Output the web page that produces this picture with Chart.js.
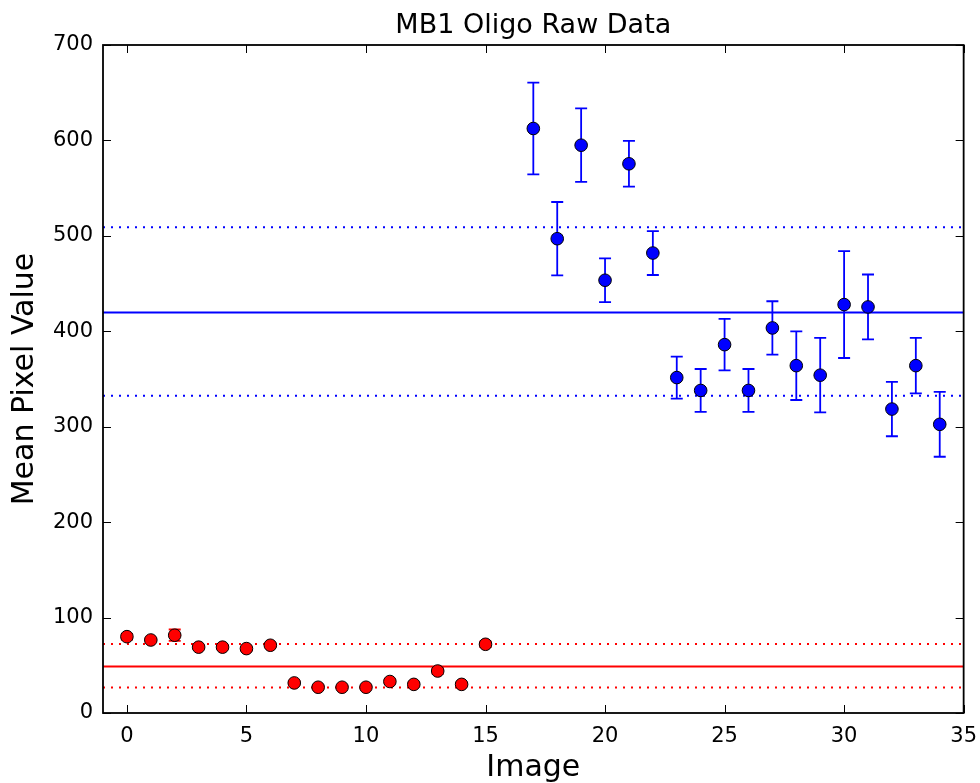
<!DOCTYPE html>
<html>
<head>
<meta charset="utf-8">
<script src="https://cdn.jsdelivr.net/npm/chart.js@4/dist/chart.umd.min.js"></script>
<style>
  html, body { margin: 0; padding: 0; background: #fff; }
  #wrap { width: 980px; height: 783px; }
</style>
</head>
<body>
<div id="wrap"><canvas id="chart" width="980" height="783"></canvas></div>
<script>
// values
const redX = [0, 1, 2, 3, 4, 5, 6, 7, 8, 9, 10, 11, 12, 13, 14, 15];
const redY = [80, 76.5, 81.5, 69, 69, 67.5, 71, 31.5, 27, 27, 27, 33, 30, 44, 30, 72];
const redErr = [3, 2, 6, 2, 2, 2, 2, 2, 2, 1, 1, 2, 2, 3, 2, 3];

const blueX = [17, 18, 19, 20, 21, 22, 23, 24, 25, 26, 27, 28, 29, 30, 31, 32, 33, 34];
const blueY = [612.5, 497, 595, 453.5, 575.5, 482, 351.5, 338, 386, 338, 403.5, 364, 354, 428, 425.5, 318.5, 364, 302.5];
const blueErr = [48, 38.5, 38.5, 23, 24, 23, 22, 22.5, 27, 22.5, 28, 36, 39, 56, 34, 28.5, 29, 34];

const redMean = 48.7, redLow = 26.6, redHigh = 72.2;
const blueMean = 419.7, blueLow = 332.5, blueHigh = 509.1;

const xTicks = [0, 5, 10, 15, 20, 25, 30, 35];
const yTicks = [0, 100, 200, 300, 400, 500, 600, 700];
const xRange = [-1, 35];

const FONT = 'DejaVu Sans';

function pts(xs, ys) {
    return xs.map((x, i) => ({ x: x, y: ys[i] }));
}
function hline(v) {
    return [{ x: xRange[0], y: v }, { x: xRange[1], y: v }];
}
function lineSet(v, color, dashed) {
    return {
        type: 'line', data: hline(v), borderColor: color, borderWidth: 2,
        borderDash: dashed ? [2, 6] : [], pointRadius: 0, fill: false, order: 3
    };
}

// error bars under the dots
const errorBars = {
    id: 'errorBars',
    beforeDatasetsDraw(chart) {
        const ctx = chart.ctx;
        const xs = chart.scales.x, ys = chart.scales.y;
        chart.data.datasets.forEach(ds => {
            if (!ds.err) return;
            ctx.save();
            ctx.strokeStyle = ds.barColor;
            ctx.lineWidth = 1.8;
            ds.data.forEach((p, i) => {
                const px = xs.getPixelForValue(p.x);
                const top = ys.getPixelForValue(p.y + ds.err[i]);
                const bot = ys.getPixelForValue(p.y - ds.err[i]);
                ctx.beginPath();
                ctx.moveTo(px, top); ctx.lineTo(px, bot);
                ctx.moveTo(px - 6, top); ctx.lineTo(px + 6, top);
                ctx.moveTo(px - 6, bot); ctx.lineTo(px + 6, bot);
                ctx.stroke();
            });
            ctx.restore();
        });
    }
};

// box, inward ticks and title, matplotlib style
const frame = {
    id: 'frame',
    afterDraw(chart) {
        const ctx = chart.ctx;
        const a = chart.chartArea;
        const xs = chart.scales.x, ys = chart.scales.y;
        ctx.save();
        ctx.strokeStyle = '#000';
        ctx.lineWidth = 1;
        ctx.beginPath();
        xTicks.forEach(v => {
            const px = Math.round(xs.getPixelForValue(v)) + 0.5;
            ctx.moveTo(px, a.bottom); ctx.lineTo(px, a.bottom - 8);
            ctx.moveTo(px, a.top); ctx.lineTo(px, a.top + 8);
        });
        yTicks.forEach(v => {
            const py = Math.round(ys.getPixelForValue(v)) + 0.5;
            ctx.moveTo(a.left, py); ctx.lineTo(a.left + 8, py);
            ctx.moveTo(a.right, py); ctx.lineTo(a.right - 8, py);
        });
        ctx.stroke();
        ctx.lineWidth = 1.8;
        ctx.strokeRect(a.left, a.top, a.right - a.left, a.bottom - a.top);
        ctx.fillStyle = '#000';
        ctx.font = '27px "' + FONT + '"';
        ctx.textAlign = 'center';
        ctx.textBaseline = 'middle';
        ctx.fillText('MB1 Oligo Raw Data', (a.left + a.right) / 2, 26);
        ctx.restore();
    }
};

new Chart(document.getElementById('chart'), {
    type: 'scatter',
    data: {
        datasets: [
            lineSet(blueMean, '#0000ff', false),
            lineSet(blueLow, '#0000ff', true),
            lineSet(blueHigh, '#0000ff', true),
            lineSet(redMean, '#ff0000', false),
            lineSet(redLow, '#ff0000', true),
            lineSet(redHigh, '#ff0000', true),
            {
                data: pts(blueX, blueY), err: blueErr, barColor: '#0000ff',
                backgroundColor: '#0000ff', borderColor: '#000', borderWidth: 1,
                pointRadius: 6.3, order: 1
            },
            {
                data: pts(redX, redY), err: redErr, barColor: '#ff0000',
                backgroundColor: '#ff0000', borderColor: '#000', borderWidth: 1,
                pointRadius: 6.3, order: 1
            }
        ]
    },
    options: {
        responsive: false,
        animation: false,
        layout: { padding: { top: 45, right: 14, left: 0, bottom: 0 } },
        plugins: { legend: { display: false }, tooltip: { enabled: false } },
        scales: {
            x: {
                type: 'linear', min: xRange[0], max: xRange[1],
                afterBuildTicks: s => { s.ticks = xTicks.map(v => ({ value: v })); },
                afterFit: s => { s.height = 70; },
                grid: { display: false }, border: { display: false },
                ticks: { color: '#000', font: { family: FONT, size: 21 }, padding: 3, maxRotation: 0 },
                title: { display: true, text: 'Image', color: '#000', font: { family: FONT, size: 30 }, padding: { top: 0, bottom: -3 } }
            },
            y: {
                type: 'linear', min: 0, max: 700,
                afterBuildTicks: s => { s.ticks = yTicks.map(v => ({ value: v })); },
                afterFit: s => { s.width = 103; },
                grid: { display: false }, border: { display: false },
                ticks: { color: '#000', font: { family: FONT, size: 21 }, padding: 2 },
                title: { display: true, text: 'Mean Pixel Value', color: '#000', font: { family: FONT, size: 30 }, padding: { bottom: 0, top: 7 } }
            }
        }
    },
    plugins: [errorBars, frame]
});
</script>
</body>
</html>
